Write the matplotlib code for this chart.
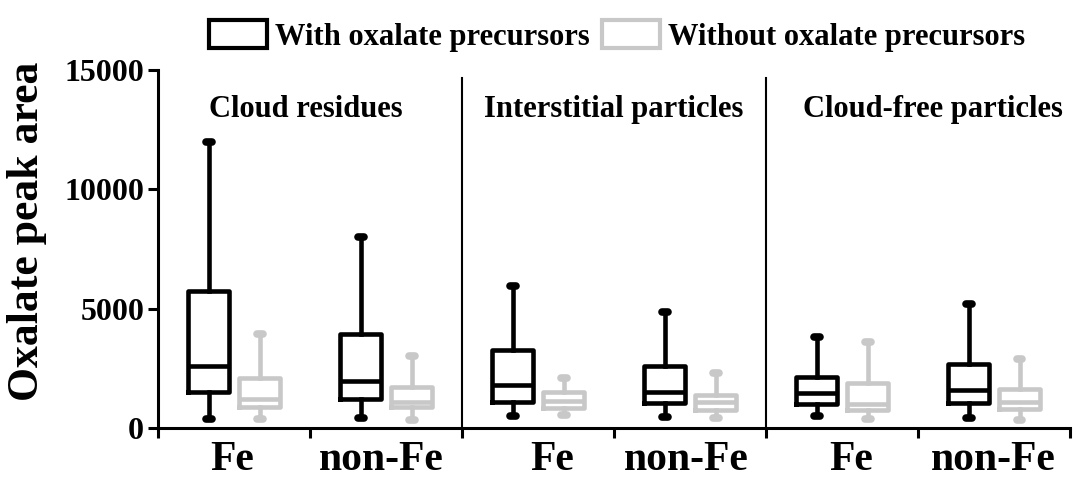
import matplotlib
matplotlib.use('Agg')
import matplotlib.pyplot as plt
from matplotlib.patches import Patch

plt.rcParams['font.family'] = ['Liberation Serif', 'DejaVu Serif']
plt.rcParams['font.weight'] = 'bold'

# panels and particle types
panels = ['Cloud residues', 'Interstitial particles', 'Cloud-free particles']
types = ['Fe', 'non-Fe']

# box stats per group (order: CR Fe, CR non-Fe, IP Fe, IP non-Fe, CF Fe, CF non-Fe)
# with oxalate precursors
with_low = [380, 400, 500, 450, 500, 400]
with_q1 = [1500, 1200, 1100, 1050, 1000, 1050]
with_med = [2600, 1950, 1800, 1500, 1450, 1600]
with_q3 = [5750, 3950, 3250, 2600, 2150, 2700]
with_high = [12000, 8000, 5950, 4850, 3800, 5200]

# without oxalate precursors
wo_low = [370, 340, 550, 400, 370, 350]
wo_q1 = [870, 870, 850, 750, 750, 800]
wo_med = [1200, 1100, 1150, 1100, 1000, 1100]
wo_q3 = [2100, 1700, 1500, 1400, 1900, 1650]
wo_high = [3950, 3000, 2100, 2300, 3600, 2900]


def make_stats(low, q1, med, q3, high):
    return [dict(whislo=a, q1=b, med=c, q3=d, whishi=e, fliers=[])
            for a, b, c, d, e in zip(low, q1, med, q3, high)]


fig = plt.figure(figsize=(10.73, 4.8), dpi=100)
ax = fig.add_axes([0.1473, 0.1083, 0.8499, 0.7459])

n = len(with_med)
pos_with = [i + 0.335 for i in range(n)]
pos_wo = [i + 0.67 for i in range(n)]

for stats, pos, col in [(make_stats(with_low, with_q1, with_med, with_q3, with_high), pos_with, 'black'),
                        (make_stats(wo_low, wo_q1, wo_med, wo_q3, wo_high), pos_wo, '#c8c8c8')]:
    ax.bxp(stats, positions=pos, widths=0.27, showfliers=False, capwidths=0.035,
           boxprops=dict(color=col, linewidth=3.3),
           medianprops=dict(color=col, linewidth=3.3),
           whiskerprops=dict(color=col, linewidth=3.3),
           capprops=dict(color=col, linewidth=5.5, solid_capstyle='round'))

# panel dividers
for xd in [2, 4]:
    ax.plot([xd, xd], [0, 14650], color='black', linewidth=1.5)

title_x = [0.97, 3.0, 5.1]
for tx, name in zip(title_x, panels):
    ax.text(tx, 13350, name, ha='center', va='center', fontsize=22, fontweight='bold')

ax.set_xlim(0, 6)
ax.set_ylim(0, 15000)
ax.set_yticks([0, 5000, 10000, 15000])
ax.set_xticks(range(7))
ax.set_xticklabels([])
# label spots as placed in the original figure
ax.set_xticks([0.487, 1.467, 2.592, 3.474, 4.559, 5.493], minor=True)
ax.set_xticklabels(types * 3, minor=True)
ax.tick_params(axis='x', which='minor', length=0, labelsize=30, pad=9)
ax.tick_params(axis='x', which='major', length=7, width=2.2)
ax.tick_params(axis='y', length=7, width=2.2, labelsize=23, pad=3)
for lab in ax.get_yticklabels() + ax.get_xticklabels(minor=True):
    lab.set_fontweight('bold')

for s in ['top', 'right']:
    ax.spines[s].set_visible(False)
for s in ['left', 'bottom']:
    ax.spines[s].set_linewidth(2.2)

ax.set_ylabel('Oxalate peak area', fontsize=31.5, fontweight='bold')
ax.yaxis.set_label_coords(-0.122, 0.55)

handles = [Patch(facecolor='white', edgecolor='black', linewidth=3),
           Patch(facecolor='white', edgecolor='#c8c8c8', linewidth=3)]
fig.legend(handles, ['With oxalate precursors', 'Without oxalate precursors'],
           loc='center', bbox_to_anchor=(0.575, 0.925), ncol=2, frameon=False,
           prop=dict(size=22, weight='bold'), handlelength=1.9, handleheight=1.0,
           handletextpad=0.25, columnspacing=0.4, borderaxespad=0)

fig.savefig('out.png', dpi=100)
